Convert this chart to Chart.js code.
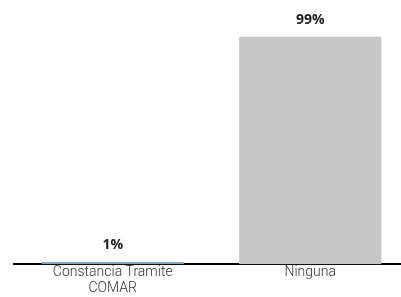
<!DOCTYPE html>
<html>
<head>
<meta charset="utf-8">
<script src="https://cdn.jsdelivr.net/npm/chart.js@4"></script>
<style>
  html, body { margin: 0; padding: 0; background: #fff; overflow: hidden; }
  #wrap { width: 409px; height: 297px; position: relative; }
</style>
</head>
<body>
<div id="wrap"><canvas id="chart"></canvas></div>
<script>
// datos
const categories = [['Constancia Tramite', 'COMAR'], 'Ninguna'];
const values = [1, 99];
const barColors = ['#72a8d6', '#c6c6c6'];

// etiquetas encima de cada barra
const valueLabels = {
    id: 'valueLabels',
    afterDatasetsDraw(chart) {
        const ctx = chart.ctx;
        const meta = chart.getDatasetMeta(0);
        ctx.save();
        ctx.font = 'bold 14px "Open Sans", sans-serif';
        ctx.fillStyle = '#222';
        ctx.textAlign = 'center';
        ctx.textBaseline = 'middle';
        meta.data.forEach((bar, i) => {
            ctx.fillText(values[i] + '%', bar.x, bar.y - 17);
        });
        ctx.restore();
    }
};

new Chart(document.getElementById('chart'), {
    type: 'bar',
    data: {
        labels: categories,
        datasets: [{
            data: values,
            backgroundColor: barColors,
            barPercentage: 0.72,
            categoryPercentage: 1
        }]
    },
    options: {
        responsive: true,
        maintainAspectRatio: false,
        animation: false,
        layout: { padding: { left: 14, right: 0, top: 0, bottom: 0 } },
        plugins: {
            legend: { display: false },
            tooltip: { enabled: false }
        },
        scales: {
            x: {
                grid: { display: false, drawTicks: false },
                border: { color: '#000', width: 2 },
                ticks: {
                    color: '#333',
                    padding: 1,
                    maxRotation: 0,
                    font: { family: 'Roboto', size: 14, weight: 300, lineHeight: 1.1 }
                }
            },
            y: {
                display: false,
                min: 0,
                max: 115
            }
        }
    },
    plugins: [valueLabels]
});
</script>
</body>
</html>
